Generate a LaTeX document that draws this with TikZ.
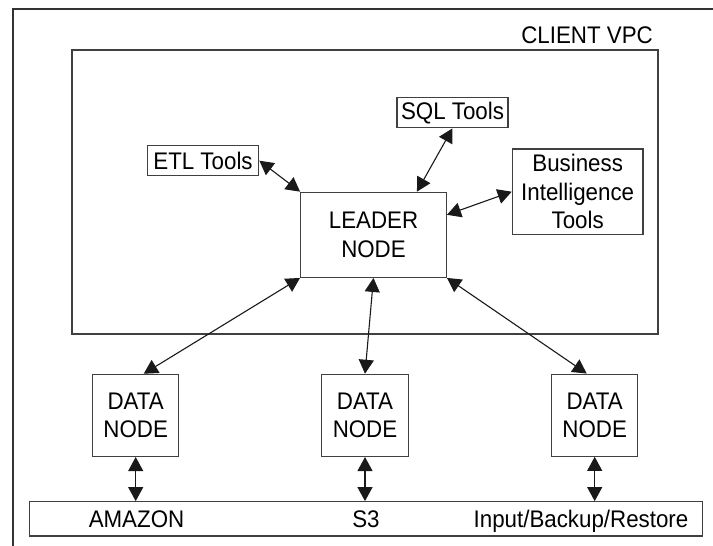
\documentclass[tikz,border=0pt]{standalone}
\usepackage{fontspec}
\setmainfont[FakeStretch=0.93]{Liberation Sans}
\usetikzlibrary{arrows.meta}
\newcommand{\dfont}{\fontsize{24}{28.5}\selectfont}
\begin{document}
\begin{tikzpicture}[x=1pt,y=-1pt,
  box/.style={draw=black!75, line width=1.3pt, inner sep=0pt, align=center, font=\dfont},
  lbl/.style={inner sep=0pt, font=\dfont},
  link/.style={{Triangle[length=14pt,width=15pt]}-{Triangle[length=14pt,width=15pt]}, line width=1.1pt, black!90}]
\useasboundingbox (0,0) rectangle (713,546);
% outer frame (cropped)
\draw[black!80, line width=1.2pt] (13,546) -- (13,9) -- (713,9);
% client VPC
\node[box, minimum width=586pt, minimum height=284pt] (vpc) at (365,192) {};
\node[lbl, anchor=base east] (vpclbl) at (653,43.3) {CLIENT VPC};
% tool boxes
\node[box, minimum width=111pt, minimum height=30pt] (sql) at (452.5,112.7) {SQL Tools};
\node[box, minimum width=111.4pt, minimum height=30pt] (etl) at (203,160.7) {ETL Tools};
\node[box, minimum width=130.7pt, minimum height=85.3pt] (bi) at (577.7,191.7) {Business\\Intelligence\\Tools};
\node[box, minimum width=145.6pt, minimum height=85pt] (leader) at (373.5,234.8) {LEADER\\NODE};
% data nodes
\node[box, minimum width=86pt, minimum height=82pt] (dn1) at (135.7,415.4) {DATA\\NODE};
\node[box, minimum width=86.6pt, minimum height=82pt] (dn2) at (365,415.4) {DATA\\NODE};
\node[box, minimum width=86pt, minimum height=82pt] (dn3) at (594.7,415.2) {DATA\\NODE};
% S3 bar
\node[box, minimum width=673pt, minimum height=34.3pt] (bar) at (366.2,518.9) {};
\node[lbl, anchor=base] (amazon) at (136.5,527) {AMAZON};
\node[lbl, anchor=base] (s3) at (366,527) {S3};
\node[lbl, anchor=base] (ibr) at (581,527) {Input/Backup/Restore};
% connectors
\draw[link] (etl.east) -- (leader.north west);
\draw[link] (sql.south) -- ([xshift=-30pt]leader.north east);
\draw[link] (bi.west) -- ([yshift=20pt]leader.east);
\draw[link] (leader.south west) -- ([xshift=8pt]dn1.north);
\draw[link] (leader.south) -- (dn2.north);
\draw[link] (leader.south east) -- ([xshift=-8pt]dn3.north);
\draw[link] (dn1.south) -- (dn1.south |- bar.north);
\draw[link] (dn2.south) -- (dn2.south |- bar.north);
\draw[link] (dn3.south) -- (dn3.south |- bar.north);
\end{tikzpicture}
\end{document}
